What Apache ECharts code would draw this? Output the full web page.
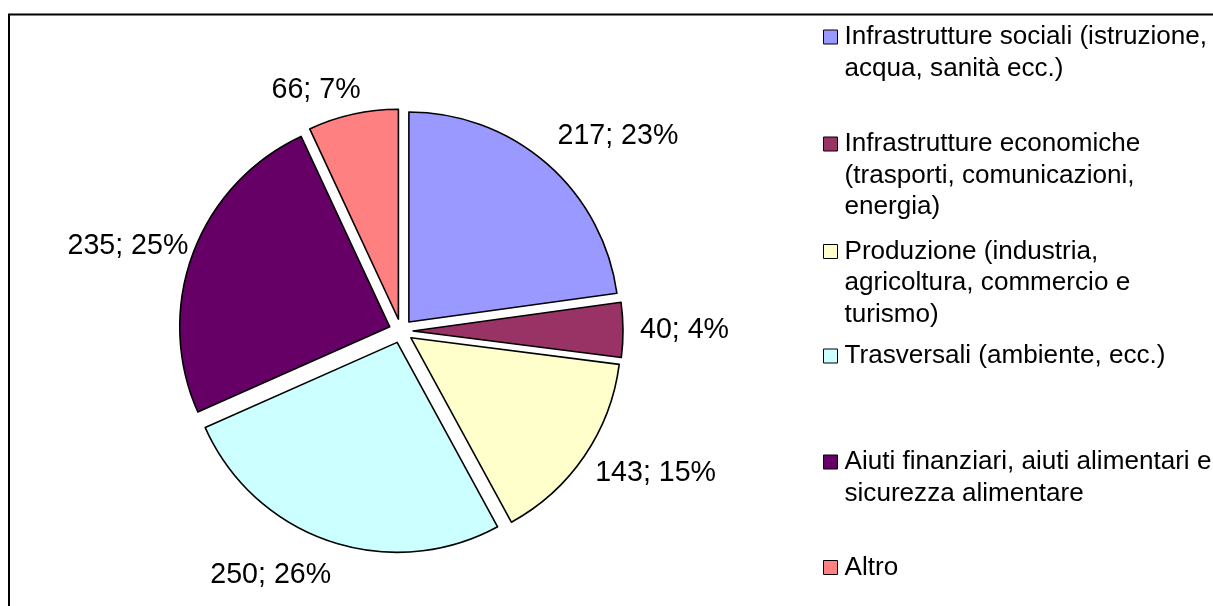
<!DOCTYPE html>
<html>
<head>
<meta charset="utf-8">
<script src="https://cdn.jsdelivr.net/npm/echarts@6/dist/echarts.min.js"></script>
<style>
html,body{margin:0;padding:0;background:#fff;}
#chart{width:1213px;height:606px;}
</style>
</head>
<body>
<div id="chart"></div>
<script>
const categories = [
  'Infrastrutture sociali (istruzione, acqua, sanità ecc.)',
  'Infrastrutture economiche (trasporti, comunicazioni, energia)',
  'Produzione (industria, agricoltura, commercio e turismo)',
  'Trasversali (ambiente, ecc.)',
  'Aiuti finanziari, aiuti alimentari e sicurezza alimentare',
  'Altro'
];
const values = [217, 40, 143, 250, 235, 66];
const colors = ['#9999FF', '#993366', '#FFFFCC', '#CCFFFF', '#660066', '#FF8080'];
const legendLines = [
  ['Infrastrutture sociali (istruzione,', 'acqua, sanità ecc.)'],
  ['Infrastrutture economiche', '(trasporti, comunicazioni,', 'energia)'],
  ['Produzione (industria,', 'agricoltura, commercio e', 'turismo)'],
  ['Trasversali (ambiente, ecc.)'],
  ['Aiuti finanziari, aiuti alimentari e', 'sicurezza alimentare'],
  ['Altro']
];

// layout constants
const FONT = '"Liberation Sans", Arial, Helvetica, sans-serif';
const LH = 31.5;
const legendIconCenters = [37, 144, 251.5, 356, 462, 567.5];
const labelLineLengths = [36, 30, 29, 36, 19, 25];

const chart = echarts.init(document.getElementById('chart'), null, {renderer: 'canvas'});

const legends = categories.map((name, i) => {
  const n = legendLines[i].length;
  // leading blank lines keep the first text line level with the icon
  const text = new Array(n - 1).fill('').concat(legendLines[i]).join('\n');
  return {
    data: [name],
    left: 823,
    top: legendIconCenters[i] - (2 * n - 1) * LH / 2,
    orient: 'vertical',
    padding: 0,
    itemGap: 0,
    itemWidth: 14,
    itemHeight: 14,
    icon: 'rect',
    selectedMode: false,
    itemStyle: {borderColor: '#000', borderWidth: 1},
    formatter: () => text,
    textStyle: {
      fontFamily: FONT,
      fontSize: 26.1,
      color: '#000',
      lineHeight: LH,
      padding: [0, 0, 0, 2]
    }
  };
});

chart.setOption({
  backgroundColor: '#fff',
  animation: false,
  legend: legends,
  graphic: [{
    type: 'rect',
    shape: {x: 9, y: 14.5, width: 1400, height: 800},
    style: {fill: 'none', stroke: '#000', lineWidth: 2},
    silent: true
  }],
  series: [{
    type: 'pie',
    center: [401, 331],
    radius: 210,
    startAngle: 90,
    clockwise: true,
    selectedMode: 'multiple',
    selectedOffset: 12,
    avoidLabelOverlap: false,
    percentPrecision: 0,
    emphasis: {disabled: true},
    select: {itemStyle: {borderColor: '#000', borderWidth: 1.6}},
    itemStyle: {borderColor: '#000', borderWidth: 1.6},
    label: {
      show: true,
      position: 'outside',
      formatter: '{c}; {d}%',
      fontFamily: FONT,
      fontSize: 28.6,
      color: '#000',
      distanceToLabelLine: -13
    },
    labelLine: {show: false, length: 30, length2: 0},
    data: categories.map((name, i) => ({
      name: name,
      value: values[i],
      selected: true,
      itemStyle: {color: colors[i]},
      labelLine: {length: labelLineLengths[i]}
    }))
  }]
});
</script>
</body>
</html>
